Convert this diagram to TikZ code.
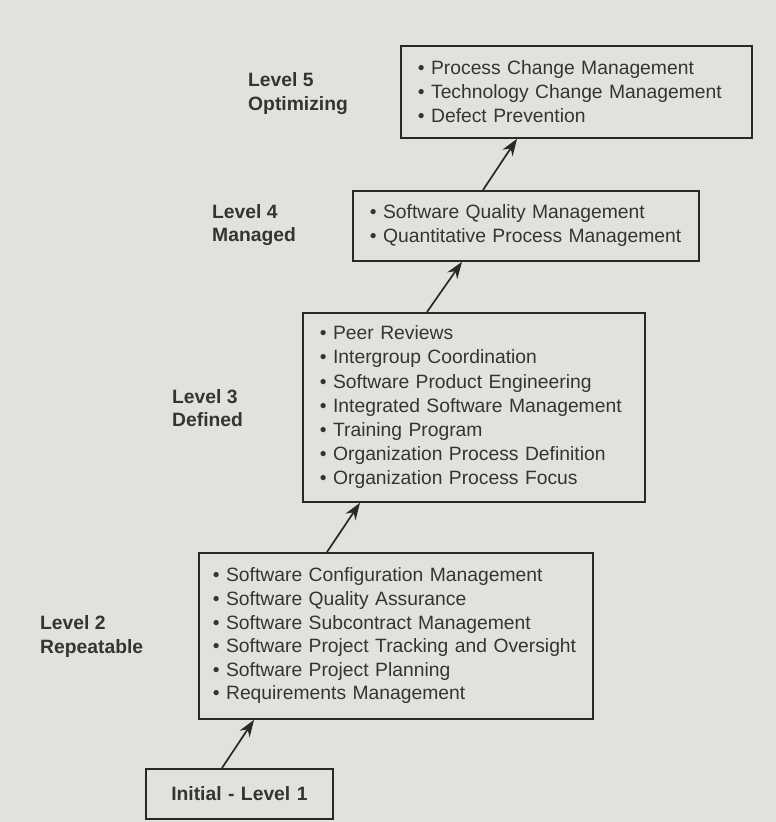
\documentclass[tikz,border=0pt]{standalone}
\usepackage{fontspec}
\setmainfont{Liberation Sans}
\usetikzlibrary{arrows.meta}
\definecolor{paper}{RGB}{226,226,221}
\definecolor{ink}{RGB}{52,52,52}
\definecolor{edge}{RGB}{40,40,40}
\begin{document}
\begin{tikzpicture}[x=1pt,y=-1pt,
  kpa/.style={font=\fontsize{19.3}{24}\selectfont, text=ink, draw=edge, line width=1.8pt, fill=paper, inner xsep=17pt, inner ysep=0pt, align=left, anchor=north west},
  lvl/.style={font=\fontsize{19.3}{23.6}\selectfont\bfseries, text=ink, align=left, anchor=west, inner sep=0pt},
  up/.style={draw=edge, line width=1.7pt, -{Stealth[length=17pt,width=12pt]}}]
\fill[paper] (0,0) rectangle (776,822);
\useasboundingbox (0,0) rectangle (776,822);

\node[kpa, text width=317pt, minimum height=92pt] (b5) at (400,45)
  {\textbullet\ Process Change Management\\
   \textbullet\ Technology Change Management\\
   \textbullet\ Defect Prevention};
\node[kpa, text width=312pt, minimum height=70pt] (b4) at (352,190)
  {\textbullet\ Software Quality Management\\
   \textbullet\ Quantitative Process Management};
\node[kpa, font=\fontsize{19.3}{24.2}\selectfont, text width=308pt, minimum height=189pt] (b3) at (302,312)
  {\textbullet\ Peer Reviews\\
   \textbullet\ Intergroup Coordination\\
   \textbullet\ Software Product Engineering\\
   \textbullet\ Integrated Software Management\\
   \textbullet\ Training Program\\
   \textbullet\ Organization Process Definition\\
   \textbullet\ Organization Process Focus};
\node[kpa, font=\fontsize{19.3}{23.6}\selectfont, inner xsep=14pt, text width=366pt, minimum height=166pt] (b2) at (198,552)
  {\textbullet\ Software Configuration Management\\
   \textbullet\ Software Quality Assurance\\
   \textbullet\ Software Subcontract Management\\
   \mbox{\textbullet\ Software Project Tracking and Oversight}\\
   \textbullet\ Software Project Planning\\
   \textbullet\ Requirements Management};
\node[kpa, font=\fontsize{19.3}{23.6}\selectfont\bfseries, align=center, inner xsep=0pt, text width=187pt, minimum height=50pt] (b1) at (145,768)
  {Initial - Level 1};

\node[lvl] (l5) at (248,93.5) {Level 5\\Optimizing};
\node[lvl] (l4) at (212,225) {Level 4\\Managed};
\node[lvl] (l3) at (172,408) {Level 3\\Defined};
\node[lvl] (l2) at (40,636.5) {Level 2\\Repeatable};

\draw[up] ([xshift=77pt]b1.north west) -- ([xshift=56pt]b2.south west);
\draw[up] ([xshift=129pt]b2.north west) -- ([xshift=58pt]b3.south west);
\draw[up] ([xshift=125pt]b3.north west) -- ([xshift=110pt]b4.south west);
\draw[up] ([xshift=131pt]b4.north west) -- ([xshift=117pt]b5.south west);
\end{tikzpicture}
\end{document}
